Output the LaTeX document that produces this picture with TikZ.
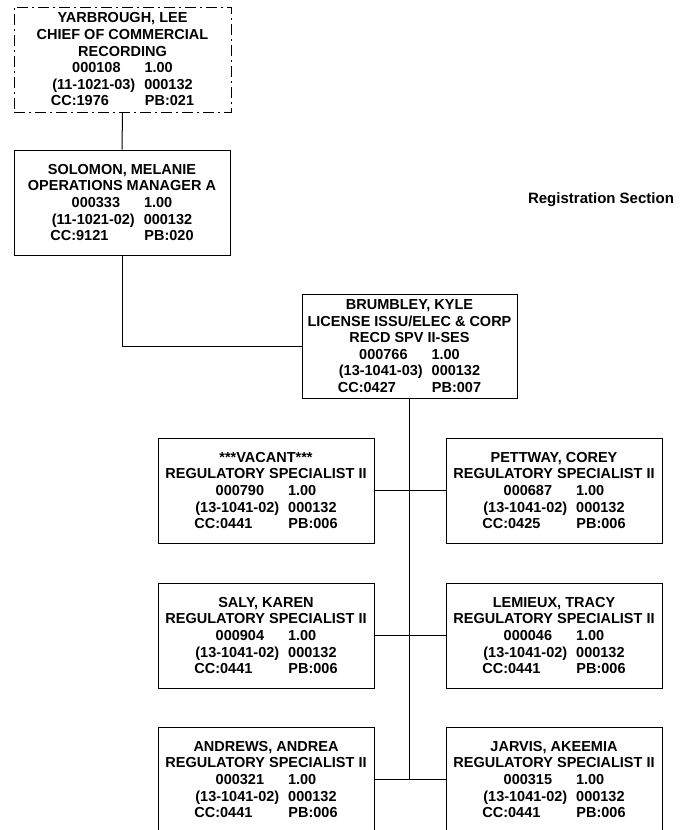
\documentclass[tikz,border=0pt]{standalone}
\usepackage{fontspec}
\setmainfont{Liberation Sans}
\newcommand{\gA}{\hspace{24pt}}
\newcommand{\gB}{\hspace{9pt}}
\newcommand{\gC}{\hspace{36pt}}
\tikzset{
  posbox/.style={draw, line width=1pt, minimum width=216pt, minimum height=105pt,
    inner sep=0pt, align=center, font=\bfseries\fontsize{14.5}{16.6}\selectfont},
  conn/.style={line width=1pt},
  trunk/.style={line width=1.6pt}
}
\begin{document}
\begin{tikzpicture}[x=1pt,y=-1pt]
\useasboundingbox (0,0) rectangle (681,830);
\clip (0,0) rectangle (681,830);
\node[posbox, dash pattern=on 11pt off 4pt on 2pt off 4pt, minimum width=217pt] (yar) at (122.5,59.5)
  {YARBROUGH, LEE\\CHIEF OF COMMERCIAL\\RECORDING\\000108\gA 1.00\\(11-1021-03)\gB 000132\\CC:1976\gC PB:021};
\node[posbox] (sol) at (122,202.5)
  {SOLOMON, MELANIE\\OPERATIONS MANAGER A\\000333\gA 1.00\\(11-1021-02)\gB 000132\\CC:9121\gC PB:020};
\node[posbox, minimum width=215pt, minimum height=104pt] (brum) at (409.5,346)
  {BRUMBLEY, KYLE\\LICENSE ISSU/ELEC \& CORP\\RECD SPV II-SES\\000766\gA 1.00\\(13-1041-03)\gB 000132\\CC:0427\gC PB:007};
\node[posbox] (l1) at (266,490.5)
  {***VACANT***\\REGULATORY SPECIALIST II\\000790\gA 1.00\\(13-1041-02)\gB 000132\\CC:0441\gC PB:006};
\node[posbox] (r1) at (554,490.5)
  {PETTWAY, COREY\\REGULATORY SPECIALIST II\\000687\gA 1.00\\(13-1041-02)\gB 000132\\CC:0425\gC PB:006};
\node[posbox] (l2) at (266,635.5)
  {SALY, KAREN\\REGULATORY SPECIALIST II\\000904\gA 1.00\\(13-1041-02)\gB 000132\\CC:0441\gC PB:006};
\node[posbox] (r2) at (554,635.5)
  {LEMIEUX, TRACY\\REGULATORY SPECIALIST II\\000046\gA 1.00\\(13-1041-02)\gB 000132\\CC:0441\gC PB:006};
\node[posbox] (l3) at (266,779.5)
  {ANDREWS, ANDREA\\REGULATORY SPECIALIST II\\000321\gA 1.00\\(13-1041-02)\gB 000132\\CC:0441\gC PB:006};
\node[posbox] (r3) at (554,779.5)
  {JARVIS, AKEEMIA\\REGULATORY SPECIALIST II\\000315\gA 1.00\\(13-1041-02)\gB 000132\\CC:0441\gC PB:006};
\node[font=\bfseries\fontsize{15}{18}\selectfont, anchor=base] (sec) at (601,203) {Registration Section};
\draw[conn] (yar.south) -- (sol.north);
\draw[conn] (sol.south) |- (brum.west);
\draw[trunk] (brum.south) -- (brum.south |- l3.east);
\draw[conn] (l1.east) -- (r1.west);
\draw[conn] (l2.east) -- (r2.west);
\draw[conn] (l3.east) -- (r3.west);
\end{tikzpicture}
\end{document}
